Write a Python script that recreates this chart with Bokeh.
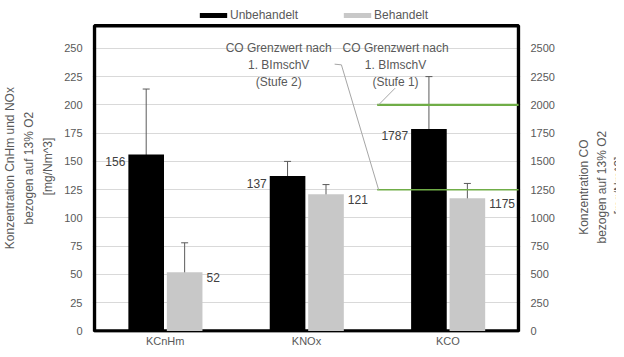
import math
from bokeh.plotting import figure
from bokeh.models import (ColumnDataSource, Range1d, LinearAxis, FixedTicker, Whisker, TeeHead,
                          Legend, LegendItem, Label)
from bokeh.core.properties import value
from bokeh.embed import file_html
from bokeh.resources import INLINE

# ---------------- data ----------------
categories = ["KCnHm", "KNOx", "KCO"]
axis_side = ["left", "left", "right"]          # KCO is read on the right (CO) axis
unbehandelt = [156, 137, 1787]
behandelt = [52, 121, 1175]
unbehandelt_err = [58, 13, 463]
behandelt_err = [26, 8.5, 130]
series_names = ["Unbehandelt", "Behandelt"]
grenzwert_values = [2000, 1250]
grenzwert_labels = ["CO Grenzwert nach\n1. BImschV\n(Stufe 1)",
                    "CO Grenzwert nach\n1. BImschV\n(Stufe 2)"]
left_ticks = [0, 25, 50, 75, 100, 125, 150, 175, 200, 225, 250]
right_ticks = [0, 250, 500, 750, 1000, 1250, 1500, 1750, 2000, 2250, 2500]
left_title = "Konzentration  CnHm und NOx\nbezogen  auf 13% O2\n[mg/Nm^3]"
right_title = "Konzentration  CO\nbezogen  auf 13% O2\n[mg/Nm^3]"

# ---------------- style / layout ----------------
FONT = "Liberation Sans"
TXT = "#595959"
BLACK = "#000000"
GRAY = "#c8c8c8"
GREEN = "#70AD47"
OFF_U, OFF_B, BAR_W = -0.134, 0.138, 0.252
BOX_TOP = 270            # top of the black plot-area box (left-axis units)
CO_SCALE = 10            # right axis = 10 x left axis
Y_LO, Y_HI = -1.32, 292.3
X_PAD = 0.0138

n = len(categories)
centers = [i + 0.5 for i in range(n)]

p = figure(x_range=Range1d(-X_PAD, n + X_PAD), y_range=Range1d(Y_LO, Y_HI),
           width=616, height=349, output_backend="svg", toolbar_location=None,
           min_border_left=82, min_border_right=96, min_border_top=0, min_border_bottom=16)
p.extra_y_ranges = {"co": Range1d(Y_LO * CO_SCALE, Y_HI * CO_SCALE)}
p.outline_line_color = None
p.background_fill_color = "white"
p.border_fill_color = "white"
p.xgrid.visible = False
p.ygrid.grid_line_color = "#d9d9d9"
p.ygrid.grid_line_width = 1

ya = p.yaxis[0]
ya.ticker = FixedTicker(ticks=left_ticks)
ya.axis_label = left_title
ya.axis_label_standoff = 6
ya.axis_label_text_font = FONT
ya.axis_label_text_font_size = "12px"
ya.axis_label_text_font_style = "normal"
ya.axis_label_text_color = TXT
ya.axis_label_text_line_height = 1.35

ra = LinearAxis(y_range_name="co", ticker=FixedTicker(ticks=right_ticks))
p.add_layout(ra, "right")
for ax in (ya, ra):
    ax.major_label_text_font = FONT
    ax.major_label_text_font_size = "11px"
    ax.major_label_text_color = TXT
    ax.major_label_standoff = 10

xa = p.xaxis[0]
xa.axis_label = None
xa.ticker = FixedTicker(ticks=centers)
xa.major_label_overrides = {c: name for c, name in zip(centers, categories)}
xa.major_label_text_font = FONT
xa.major_label_text_font_size = "11px"
xa.major_label_text_color = TXT
xa.major_label_standoff = 2
xa.axis_label_standoff = 0

for ax in (xa, ya, ra):
    ax.major_tick_line_color = None
    ax.minor_tick_line_color = None
    ax.major_tick_out = 0
    ax.major_tick_in = 0
    ax.minor_tick_out = 0
    ax.minor_tick_in = 0
    ax.axis_line_color = None

# right axis title, read bottom-to-top like the left one
p.add_layout(Label(x=44, y=147, x_units="screen", y_units="screen", text=right_title,
                   angle=math.pi / 2, text_align="center", text_baseline="middle",
                   text_font=FONT, text_font_size="12px", text_color=TXT,
                   text_line_height=1.25), "right")

# plot-area box
p.quad(left=[0], right=[n], bottom=[0], top=[BOX_TOP], fill_color=None,
       line_color="black", line_width=3.5)

# ---------------- bars, labels, error bars ----------------
def make_source(side):
    idx = [i for i, s in enumerate(axis_side) if s == side]
    return ColumnDataSource(dict(
        xu=[centers[i] + OFF_U for i in idx],
        xb=[centers[i] + OFF_B for i in idx],
        xu_edge=[centers[i] + OFF_U - BAR_W / 2 for i in idx],
        xb_edge=[centers[i] + OFF_B + BAR_W / 2 for i in idx],
        unb=[unbehandelt[i] for i in idx],
        beh=[behandelt[i] for i in idx],
        unb_lo=[unbehandelt[i] - unbehandelt_err[i] for i in idx],
        unb_hi=[unbehandelt[i] + unbehandelt_err[i] for i in idx],
        beh_lo=[behandelt[i] - behandelt_err[i] for i in idx],
        beh_hi=[behandelt[i] + behandelt_err[i] for i in idx],
        unb_txt=[str(unbehandelt[i]) for i in idx],
        beh_txt=[str(behandelt[i]) for i in idx],
    ))

r_unb, r_beh = [], []
for side, yname in (("left", "default"), ("right", "co")):
    src = make_source(side)
    kw = {"y_range_name": yname}
    r_unb.append(p.vbar(x="xu", top="unb", width=BAR_W, source=src,
                        fill_color=BLACK, line_color=None, **kw))
    r_beh.append(p.vbar(x="xb", top="beh", width=BAR_W, source=src,
                        fill_color=GRAY, line_color=None, **kw))
    for xb, lo, hi in (("xu", "unb_lo", "unb_hi"), ("xb", "beh_lo", "beh_hi")):
        w = Whisker(source=src, base=xb, lower=lo, upper=hi,
                    line_color="#5a5a5a", line_width=1, y_range_name=yname,
                    upper_head=TeeHead(size=7, line_color="#5a5a5a", line_width=1),
                    lower_head=TeeHead(size=7, line_color="#5a5a5a", line_width=1))
        p.add_layout(w)
    p.text(x="xu_edge", y="unb", text="unb_txt", source=src,
           text_align="right", text_baseline="middle", x_offset=-3, y_offset=7,
           text_font=value(FONT), text_font_size="12px", text_color="#404040", **kw)
    p.text(x="xb_edge", y="beh", text="beh_txt", source=src,
           text_align="left", text_baseline="middle", x_offset=4, y_offset=5,
           text_font=value(FONT), text_font_size="12px", text_color="#404040", **kw)

# ---------------- CO limit lines with callouts ----------------
kco = categories.index("KCO")
gsrc = ColumnDataSource(dict(x0=[kco, kco], x1=[kco + 1, kco + 1], y=grenzwert_values, w=[2.2, 1.5]))
p.segment(x0="x0", x1="x1", y0="y", y1="y", source=gsrc, line_color=GREEN, line_width="w",
          y_range_name="co")

label_x = [2.13, 1.303]
label_y = 2354
p.text(x=label_x, y=[label_y, label_y], text=grenzwert_labels, text_align="center",
       text_baseline="middle", text_font=value(FONT), text_font_size="12px", text_color=TXT,
       text_line_height=1.2, y_range_name="co")

p.multi_line(xs=[[kco + 0.01, 2.127], [kco + 0.01, 1.747, 1.699]],
             ys=[[grenzwert_values[0], 2148], [grenzwert_values[1], label_y, 2360]],
             line_color="#a6a6a6", line_width=1, y_range_name="co")

# ---------------- legend (inside the canvas area above the box) ----------------
legend = Legend(items=[LegendItem(label=series_names[0], renderers=r_unb),
                       LegendItem(label=series_names[1], renderers=r_beh)],
                orientation="horizontal", location=(104, 310),
                glyph_width=34, glyph_height=6, label_standoff=0, spacing=42,
                padding=0, margin=0, label_height=14,
                label_text_font=FONT, label_text_font_size="12px", label_text_color=TXT,
                background_fill_alpha=0, border_line_color=None)
p.add_layout(legend, "center")

open("out.html", "w").write(file_html(p, INLINE))
